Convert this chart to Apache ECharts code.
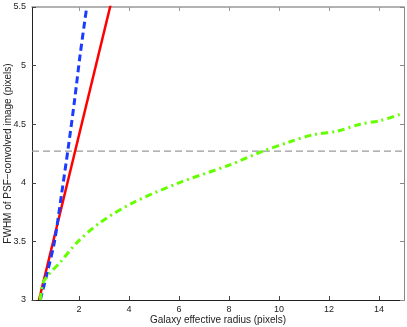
<!DOCTYPE html>
<html>
<head>
<meta charset="utf-8">
<script src="https://cdn.jsdelivr.net/npm/echarts@6/dist/echarts.min.js"></script>
<style>
  html, body { margin: 0; padding: 0; background: #fff; }
  #chart { width: 407px; height: 327px; }
</style>
</head>
<body>
<div id="chart"></div>
<script>
// values
const xTicks = [2, 4, 6, 8, 10, 12, 14]
const refLevel = 4.27

const redLine = [[0.4, 3], [3.3, 5.55]]
const blueLine = [[0.45, 3], [0.75, 3.25], [1.02, 3.5], [1.3, 3.9], [1.57, 4.3], [1.82, 4.7], [2.05, 5.1], [2.31, 5.5]]
const greenX = [0.45, 0.56, 0.8, 1.24, 1.92, 2.84, 4.16, 6, 8, 9.36, 10.44, 11.36, 12.32, 13.24, 14.04, 14.92]
const greenY = [3.0, 3.145, 3.22, 3.32, 3.49, 3.66, 3.83, 4.0, 4.15, 4.27, 4.35, 4.41, 4.44, 4.5, 4.53, 4.59]

const chart = echarts.init(document.getElementById('chart'))

const font = 'Liberation Sans, Arial, sans-serif'

const option = {
  animation: false,
  grid: { left: 32, right: 3, top: 7, bottom: 27, containLabel: false, outerBoundsMode: 'none' },
  xAxis: [
    {
      type: 'value',
      min: 0.12,
      max: 15,
      name: 'Galaxy effective radius (pixels)',
      nameLocation: 'middle',
      nameGap: 15,
      nameMoveOverlap: false,
      nameTextStyle: { color: '#222', fontSize: 10, fontFamily: font },
      axisLine: { lineStyle: { color: '#222', width: 1 } },
      axisTick: { inside: true, length: 4, customValues: xTicks, lineStyle: { color: '#444' } },
      axisLabel: { customValues: xTicks, color: '#222', fontSize: 9, fontFamily: font, margin: 5 },
      splitLine: { show: false }
    },
    {
      type: 'value',
      position: 'top',
      min: 0.12,
      max: 15,
      axisLine: { lineStyle: { color: '#999', width: 1.5 } },
      axisTick: { inside: true, length: 4, customValues: xTicks, lineStyle: { color: '#999' } },
      axisLabel: { show: false },
      splitLine: { show: false }
    }
  ],
  yAxis: [
    {
      type: 'value',
      min: 3,
      max: 5.5,
      interval: 0.5,
      name: 'FWHM of PSF\u2212convolved image (pixels)',
      nameLocation: 'middle',
      nameGap: 19,
      nameMoveOverlap: false,
      nameTextStyle: { color: '#222', fontSize: 10, fontFamily: font },
      axisLine: { show: true, lineStyle: { color: '#222', width: 1 } },
      axisTick: { show: true, inside: true, length: 4, lineStyle: { color: '#444' } },
      axisLabel: { color: '#222', fontSize: 9, fontFamily: font, margin: 6 },
      splitLine: { show: false }
    },
    {
      type: 'value',
      position: 'right',
      min: 3,
      max: 5.5,
      interval: 0.5,
      axisLine: { show: true, lineStyle: { color: '#888', width: 1 } },
      axisTick: { show: true, inside: true, length: 4, lineStyle: { color: '#888' } },
      axisLabel: { show: false },
      splitLine: { show: false }
    }
  ],
  series: [
    {
      type: 'line',
      data: redLine,
      showSymbol: false,
      clip: true,
      z: 3,
      lineStyle: { color: '#ff0000', width: 2.5 }
    },
    {
      type: 'line',
      data: blueLine,
      showSymbol: false,
      smooth: 0.3,
      clip: true,
      z: 4,
      lineStyle: { color: '#1a3cff', width: 3, type: [7, 4] }
    },
    {
      type: 'line',
      data: greenX.map((x, i) => [x, greenY[i]]),
      showSymbol: false,
      smooth: 0.3,
      clip: true,
      z: 5,
      lineStyle: { color: '#66ff00', width: 3, type: [7, 4, 2, 4] }
    },
    {
      type: 'line',
      data: [[0.12, refLevel], [15, refLevel]],
      showSymbol: false,
      z: 1,
      lineStyle: { color: '#999', width: 1.2, type: [7, 4] }
    }
  ]
}

chart.setOption(option)
window.addEventListener('resize', () => chart.resize())
</script>
</body>
</html>
